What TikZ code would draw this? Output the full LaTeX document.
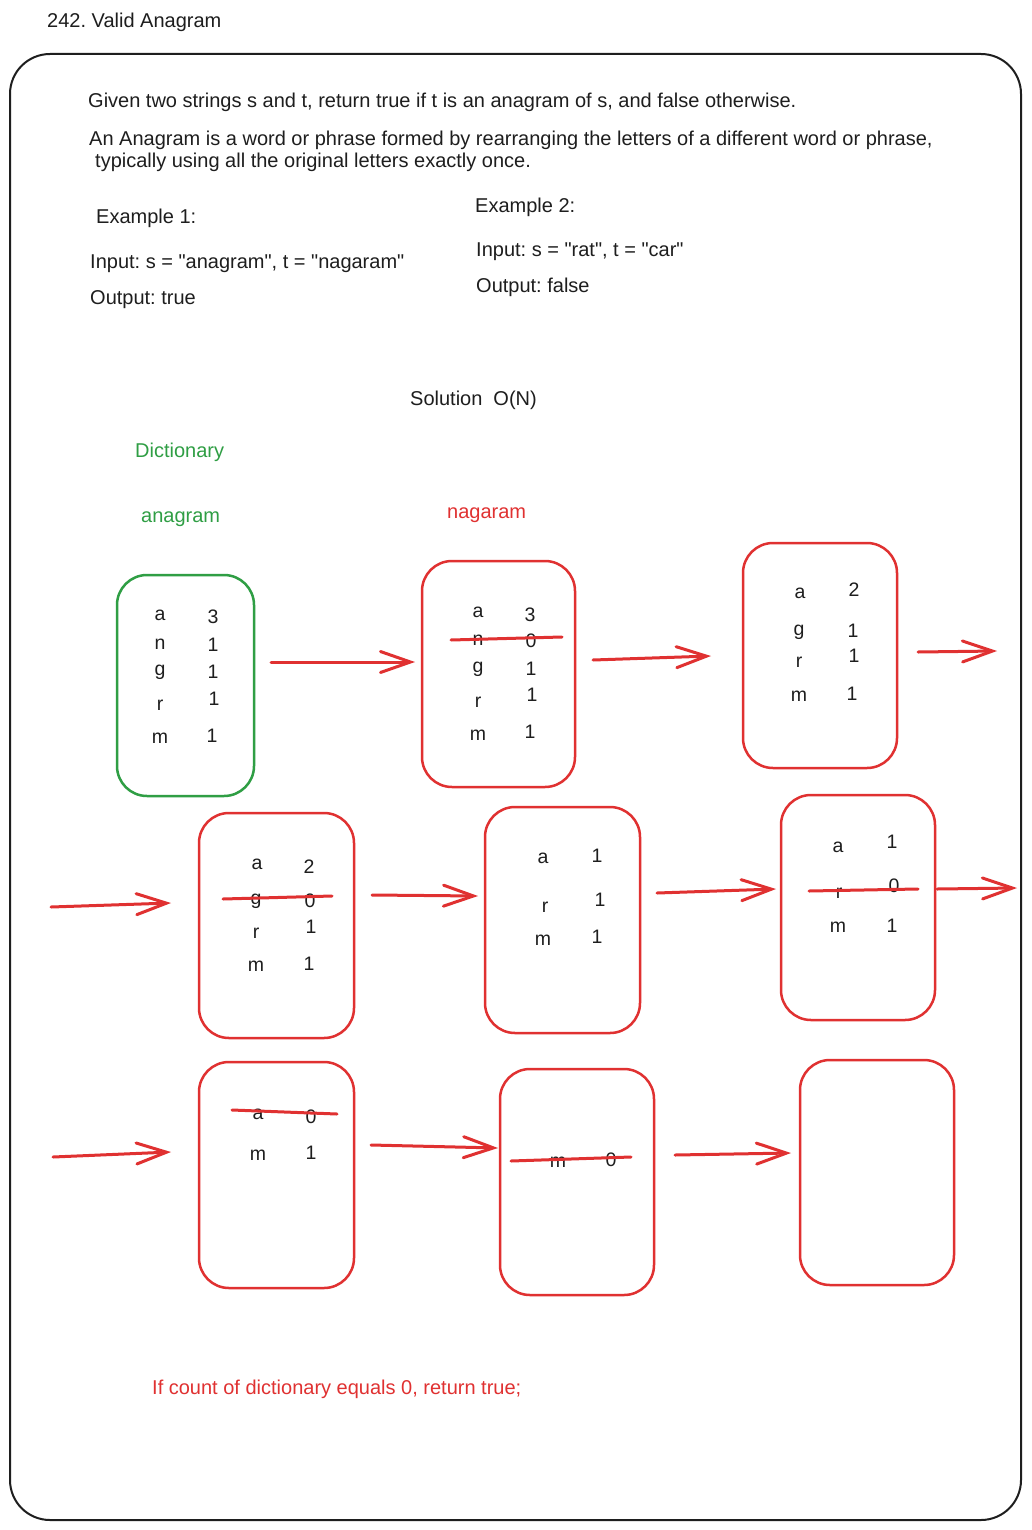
\documentclass[tikz,border=0pt]{standalone}
\usepackage{fontspec}
\setmainfont{Liberation Sans}[Ligatures=TeXOff]
\usetikzlibrary{arrows.meta}
\definecolor{ink}{HTML}{1E1E1E}
\definecolor{exred}{HTML}{E03131}
\definecolor{exgreen}{HTML}{2F9E44}
\frenchspacing
\begin{document}
\begin{tikzpicture}[x=1pt,y=-1pt,
  txt/.style={anchor=base west, inner sep=0pt, text=ink, font=\fontsize{20}{24}\selectfont},
  redtxt/.style={txt, text=exred},
  greentxt/.style={txt, text=exgreen},
  cell/.style={anchor=base, inner sep=0pt, text=ink, font=\fontsize{19.5}{23}\selectfont},
  rbox/.style={draw=exred, line width=2.5pt, rounded corners=30pt, inner sep=0pt},
  gbox/.style={draw=exgreen, line width=2.5pt, rounded corners=30pt, inner sep=0pt},
  arr/.style={draw=exred, line width=3pt, line cap=round, -{Straight Barb[length=30pt,width=21pt,line cap=round]}},
  strike/.style={draw=exred, line width=3pt, line cap=round},
]
\useasboundingbox (0,0) rectangle (1031,1530);
\fill[white] (0,0) rectangle (1031,1530);

% frame
\draw[ink, line width=2pt, rounded corners=40pt] (10,54) rectangle (1021,1520);

% header texts
\node[txt] (title) at (47,28) {242. Valid Anagram};
\node[txt] (given) at (88,108) {Given two strings s and t, return true if t is an anagram of s, and false otherwise.};
\node[txt] (def1) at (89,146) {An Anagram is a word or phrase formed by rearranging the letters of a different word or phrase,};
\node[txt] (def2) at (95,168) {typically using all the original letters exactly once.};
\node[txt] (ex1) at (96,224) {Example 1:};
\node[txt] (in1) at (90,269) {Input: s = "anagram", t = "nagaram"};
\node[txt] (out1) at (90,304) {Output: true};
\node[txt] (ex2) at (475,213) {Example 2:};
\node[txt] (in2) at (476,257) {Input: s = "rat", t = "car"};
\node[txt] (out2) at (476,292) {Output: false};
\node[txt] (sol) at (410,405) {Solution\hspace{0.55em}O(N)};
\node[greentxt] (dict) at (135,457) {Dictionary};
\node[greentxt] (sword) at (141,522) {anagram};
\node[redtxt] (tword) at (447,518) {nagaram};
\node[redtxt] (concl) at (152,1394) {If count of dictionary equals 0, return true;};

% boxes
\node[gbox, minimum width=137pt, minimum height=221pt] (b1) at (185.5,685.5) {};
\node[rbox, minimum width=153pt, minimum height=226pt] (b2) at (498.5,674) {};
\node[rbox, minimum width=154pt, minimum height=225pt] (b3) at (820,655.5) {};
\node[rbox, minimum width=155pt, minimum height=225pt] (b4) at (276.5,925.5) {};
\node[rbox, minimum width=155pt, minimum height=226pt] (b5) at (562.5,920) {};
\node[rbox, minimum width=154pt, minimum height=225pt] (b6) at (858,907.5) {};
\node[rbox, minimum width=155pt, minimum height=226pt] (b7) at (276.5,1175) {};
\node[rbox, minimum width=154pt, minimum height=226pt] (b8) at (577,1182) {};
\node[rbox, minimum width=154pt, minimum height=225pt] (b9) at (877,1172.5) {};

% box 1
\node[cell] (b1a) at (160,620) {a};   \node[cell] (b1an) at (213,623) {3};
\node[cell] (b1n) at (160,649) {n};   \node[cell] (b1nn) at (213,651) {1};
\node[cell] (b1g) at (160,675) {g};   \node[cell] (b1gn) at (213,678) {1};
\node[cell] (b1r) at (160,710) {r};   \node[cell] (b1rn) at (214,705) {1};
\node[cell] (b1m) at (160,743) {m};   \node[cell] (b1mn) at (212,742) {1};

% box 2
\node[cell] (b2a) at (478,617) {a};   \node[cell] (b2an) at (530,621) {3};
\node[cell] (b2n) at (478,645) {n};   \node[cell] (b2nn) at (531,647) {0};
\node[cell] (b2g) at (478,672) {g};   \node[cell] (b2gn) at (531,675) {1};
\node[cell] (b2r) at (478,707) {r};   \node[cell] (b2rn) at (532,701) {1};
\node[cell] (b2m) at (478,740) {m};   \node[cell] (b2mn) at (530,738) {1};
\coordinate (s2a) at (451,640); \coordinate (s2b) at (562,637);
\draw[strike] (s2a) -- (s2b);

% box 3
\node[cell] (b3a) at (800,598) {a};   \node[cell] (b3an) at (854,596) {2};
\node[cell] (b3g) at (799,635) {g};   \node[cell] (b3gn) at (853,637) {1};
\node[cell] (b3r) at (799,667) {r};   \node[cell] (b3rn) at (854,662) {1};
\node[cell] (b3m) at (799,701) {m};   \node[cell] (b3mn) at (852,700) {1};

% box 4
\node[cell] (b4a) at (257,869) {a};   \node[cell] (b4an) at (309,873) {2};
\node[cell] (b4g) at (256,904) {g};   \node[cell] (b4gn) at (310,907) {0};
\node[cell] (b4r) at (256,938) {r};   \node[cell] (b4rn) at (311,933) {1};
\node[cell] (b4m) at (256,971) {m};   \node[cell] (b4mn) at (309,970) {1};
\coordinate (s4a) at (223,899); \coordinate (s4b) at (332,896);
\draw[strike] (s4a) -- (s4b);

% box 5
\node[cell] (b5a) at (543,863) {a};   \node[cell] (b5an) at (597,862) {1};
\node[cell] (b5r) at (545,912) {r};   \node[cell] (b5rn) at (600,906) {1};
\node[cell] (b5m) at (543,945) {m};   \node[cell] (b5mn) at (597,943) {1};

% box 6
\node[cell] (b6a) at (838,852) {a};   \node[cell] (b6an) at (892,848) {1};
\node[cell] (b6r) at (839,898) {r};   \node[cell] (b6rn) at (894,892) {0};
\node[cell] (b6m) at (838,932) {m};   \node[cell] (b6mn) at (892,932) {1};
\coordinate (s6a) at (809,891); \coordinate (s6b) at (918,889);
\draw[strike] (s6a) -- (s6b);

% box 7
\node[cell] (b7a) at (258,1119) {a};  \node[cell] (b7an) at (311,1123) {0};
\node[cell] (b7m) at (258,1160) {m};  \node[cell] (b7mn) at (311,1159) {1};
\coordinate (s7a) at (232,1110); \coordinate (s7b) at (337,1114);
\draw[strike] (s7a) -- (s7b);

% box 8
\node[cell] (b8m) at (558,1167) {m};  \node[cell] (b8mn) at (611,1166) {0};
\coordinate (s8a) at (511,1161); \coordinate (s8b) at (631,1157);
\draw[strike] (s8a) -- (s8b);

% arrows
\coordinate (a1s) at (271,662);  \coordinate (a1e) at (415,662);
\coordinate (a2s) at (593,660);  \coordinate (a2e) at (711,656);
\coordinate (a3s) at (918,652);  \coordinate (a3e) at (997,651);
\coordinate (a4s) at (51,907);   \coordinate (a4e) at (171,903);
\coordinate (a5s) at (372,895);  \coordinate (a5e) at (478,896);
\coordinate (a6s) at (657,893);  \coordinate (a6e) at (776,889);
\coordinate (a7s) at (937,889);  \coordinate (a7e) at (1017,888);
\coordinate (a8s) at (53,1157);  \coordinate (a8e) at (171,1152);
\coordinate (a9s) at (371,1145); \coordinate (a9e) at (498,1148);
\coordinate (a10s) at (675,1155); \coordinate (a10e) at (791,1153);
\foreach \i in {1,...,10} { \draw[arr] (a\i s) -- (a\i e); }
\end{tikzpicture}
\end{document}
